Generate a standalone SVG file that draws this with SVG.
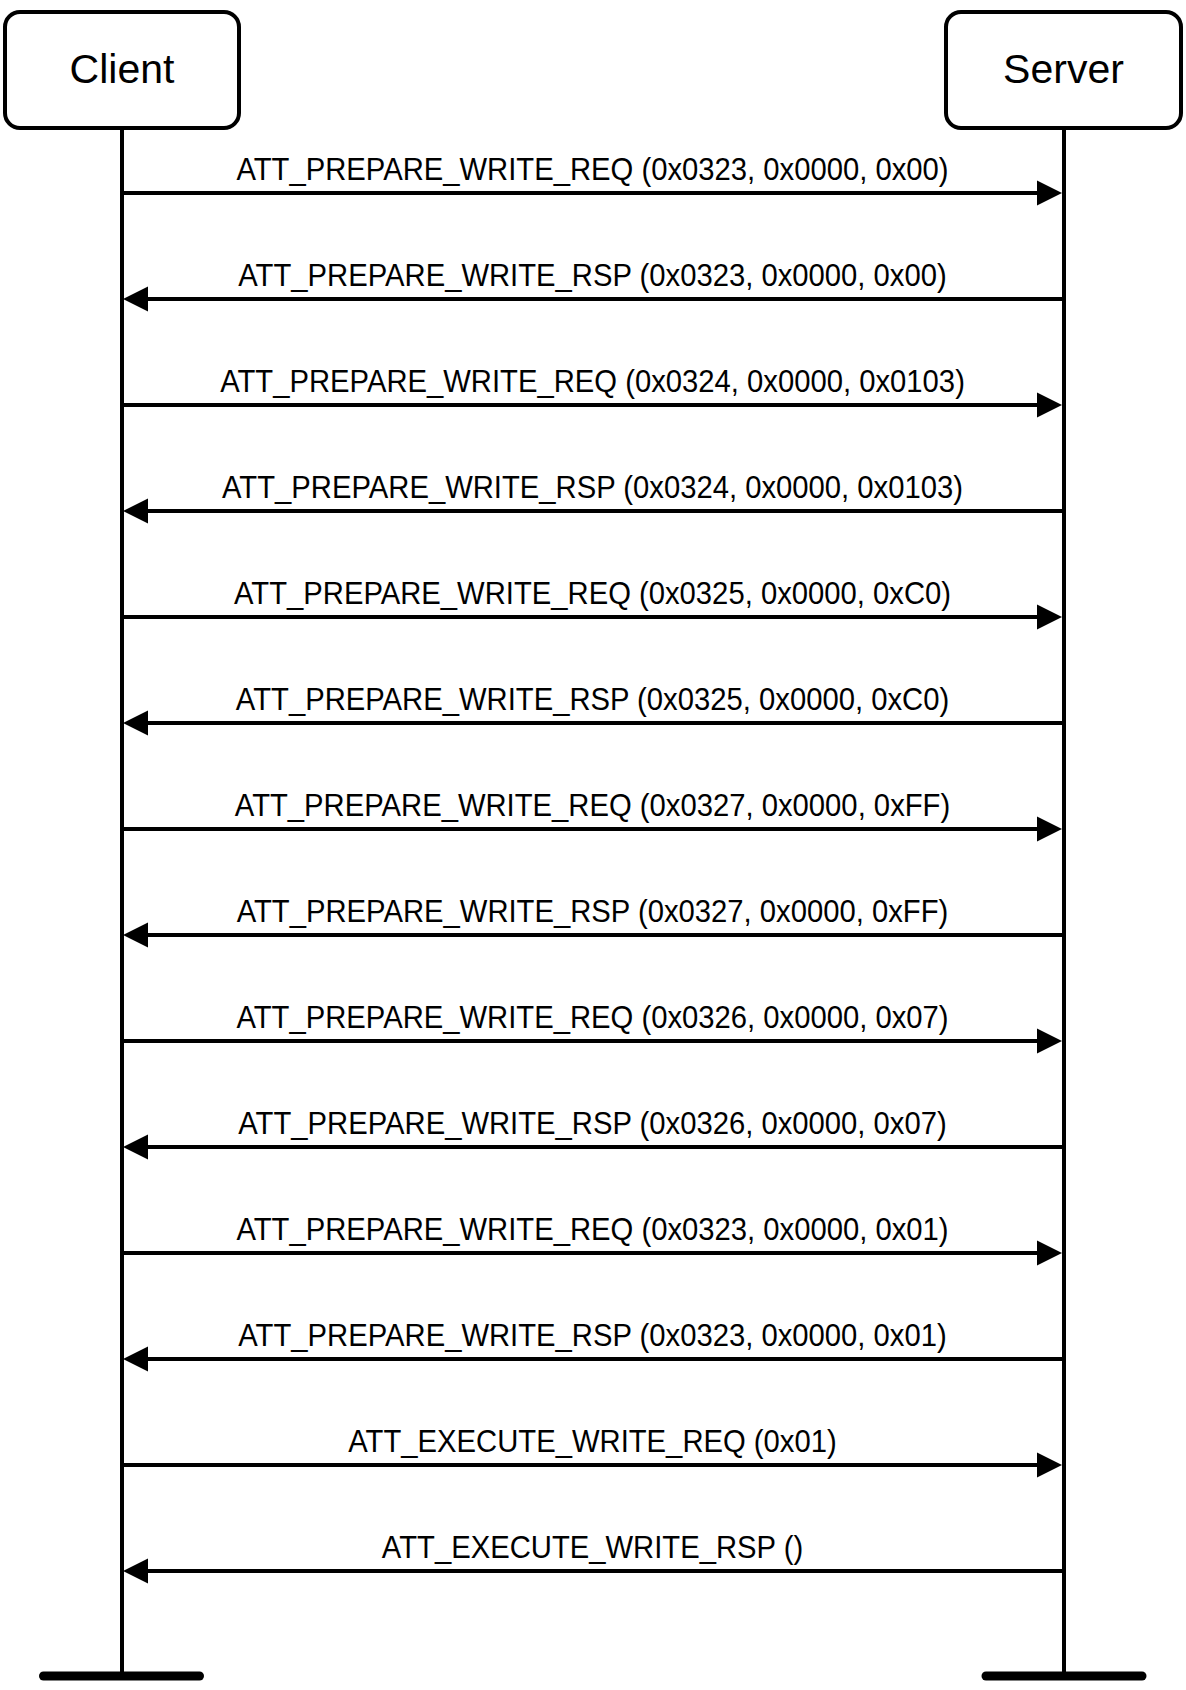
<svg xmlns="http://www.w3.org/2000/svg" width="1186" height="1690" viewBox="0 0 1186 1690">
<defs>
<style>
.box{fill:#fff;stroke:#000;stroke-width:4}
.title{font-family:"Liberation Sans",Arial,sans-serif;font-size:41px;fill:#000;text-anchor:middle}
.life{stroke:#000;stroke-width:4;fill:none}
.foot{stroke:#000;stroke-width:9;stroke-linecap:round}
.msg{stroke:#000;stroke-width:4;fill:none}
.r{marker-end:url(#ah)}
.lbl{font-family:"Liberation Sans",Arial,sans-serif;font-size:32px;fill:#000;text-anchor:middle}
</style>
<marker id="ah" markerUnits="userSpaceOnUse" markerWidth="26" markerHeight="26" refX="0" refY="12.5" orient="auto" overflow="visible">
<path d="M0,0 L25,12.5 L0,25 Z" fill="#000"/>
</marker>
</defs>
<rect width="1186" height="1690" fill="#fff"/>
<g id="client">
<rect class="box" x="5" y="12" width="234" height="116" rx="15" ry="15"/>
<text class="title" x="122" y="83">Client</text>
<line class="life" x1="122" y1="128" x2="122" y2="1676"/>
<line class="foot" x1="43.5" y1="1676" x2="199.5" y2="1676"/>
</g>
<g id="server">
<rect class="box" x="946" y="12" width="235" height="116" rx="15" ry="15"/>
<text class="title" x="1063.5" y="83">Server</text>
<line class="life" x1="1064" y1="128" x2="1064" y2="1676"/>
<line class="foot" x1="986" y1="1676" x2="1142" y2="1676"/>
</g>
<g id="connectors">
<line class="msg r" x1="124" y1="193" x2="1037" y2="193"/>
<line class="msg r" x1="1062" y1="299" x2="148" y2="299"/>
<line class="msg r" x1="124" y1="405" x2="1037" y2="405"/>
<line class="msg r" x1="1062" y1="511" x2="148" y2="511"/>
<line class="msg r" x1="124" y1="617" x2="1037" y2="617"/>
<line class="msg r" x1="1062" y1="723" x2="148" y2="723"/>
<line class="msg r" x1="124" y1="829" x2="1037" y2="829"/>
<line class="msg r" x1="1062" y1="935" x2="148" y2="935"/>
<line class="msg r" x1="124" y1="1041" x2="1037" y2="1041"/>
<line class="msg r" x1="1062" y1="1147" x2="148" y2="1147"/>
<line class="msg r" x1="124" y1="1253" x2="1037" y2="1253"/>
<line class="msg r" x1="1062" y1="1359" x2="148" y2="1359"/>
<line class="msg r" x1="124" y1="1465" x2="1037" y2="1465"/>
<line class="msg r" x1="1062" y1="1571" x2="148" y2="1571"/>
<g transform="translate(592.5,0) scale(0.914,1)">
<text class="lbl" x="0" y="180">ATT_PREPARE_WRITE_REQ (0x0323, 0x0000, 0x00)</text>
<text class="lbl" x="0" y="286">ATT_PREPARE_WRITE_RSP (0x0323, 0x0000, 0x00)</text>
<text class="lbl" x="0" y="392">ATT_PREPARE_WRITE_REQ (0x0324, 0x0000, 0x0103)</text>
<text class="lbl" x="0" y="498">ATT_PREPARE_WRITE_RSP (0x0324, 0x0000, 0x0103)</text>
<text class="lbl" x="0" y="604">ATT_PREPARE_WRITE_REQ (0x0325, 0x0000, 0xC0)</text>
<text class="lbl" x="0" y="710">ATT_PREPARE_WRITE_RSP (0x0325, 0x0000, 0xC0)</text>
<text class="lbl" x="0" y="816">ATT_PREPARE_WRITE_REQ (0x0327, 0x0000, 0xFF)</text>
<text class="lbl" x="0" y="922">ATT_PREPARE_WRITE_RSP (0x0327, 0x0000, 0xFF)</text>
<text class="lbl" x="0" y="1028">ATT_PREPARE_WRITE_REQ (0x0326, 0x0000, 0x07)</text>
<text class="lbl" x="0" y="1134">ATT_PREPARE_WRITE_RSP (0x0326, 0x0000, 0x07)</text>
<text class="lbl" x="0" y="1240">ATT_PREPARE_WRITE_REQ (0x0323, 0x0000, 0x01)</text>
<text class="lbl" x="0" y="1346">ATT_PREPARE_WRITE_RSP (0x0323, 0x0000, 0x01)</text>
<text class="lbl" x="0" y="1452">ATT_EXECUTE_WRITE_REQ (0x01)</text>
<text class="lbl" x="0" y="1558">ATT_EXECUTE_WRITE_RSP ()</text>
</g>
</g>
</svg>
